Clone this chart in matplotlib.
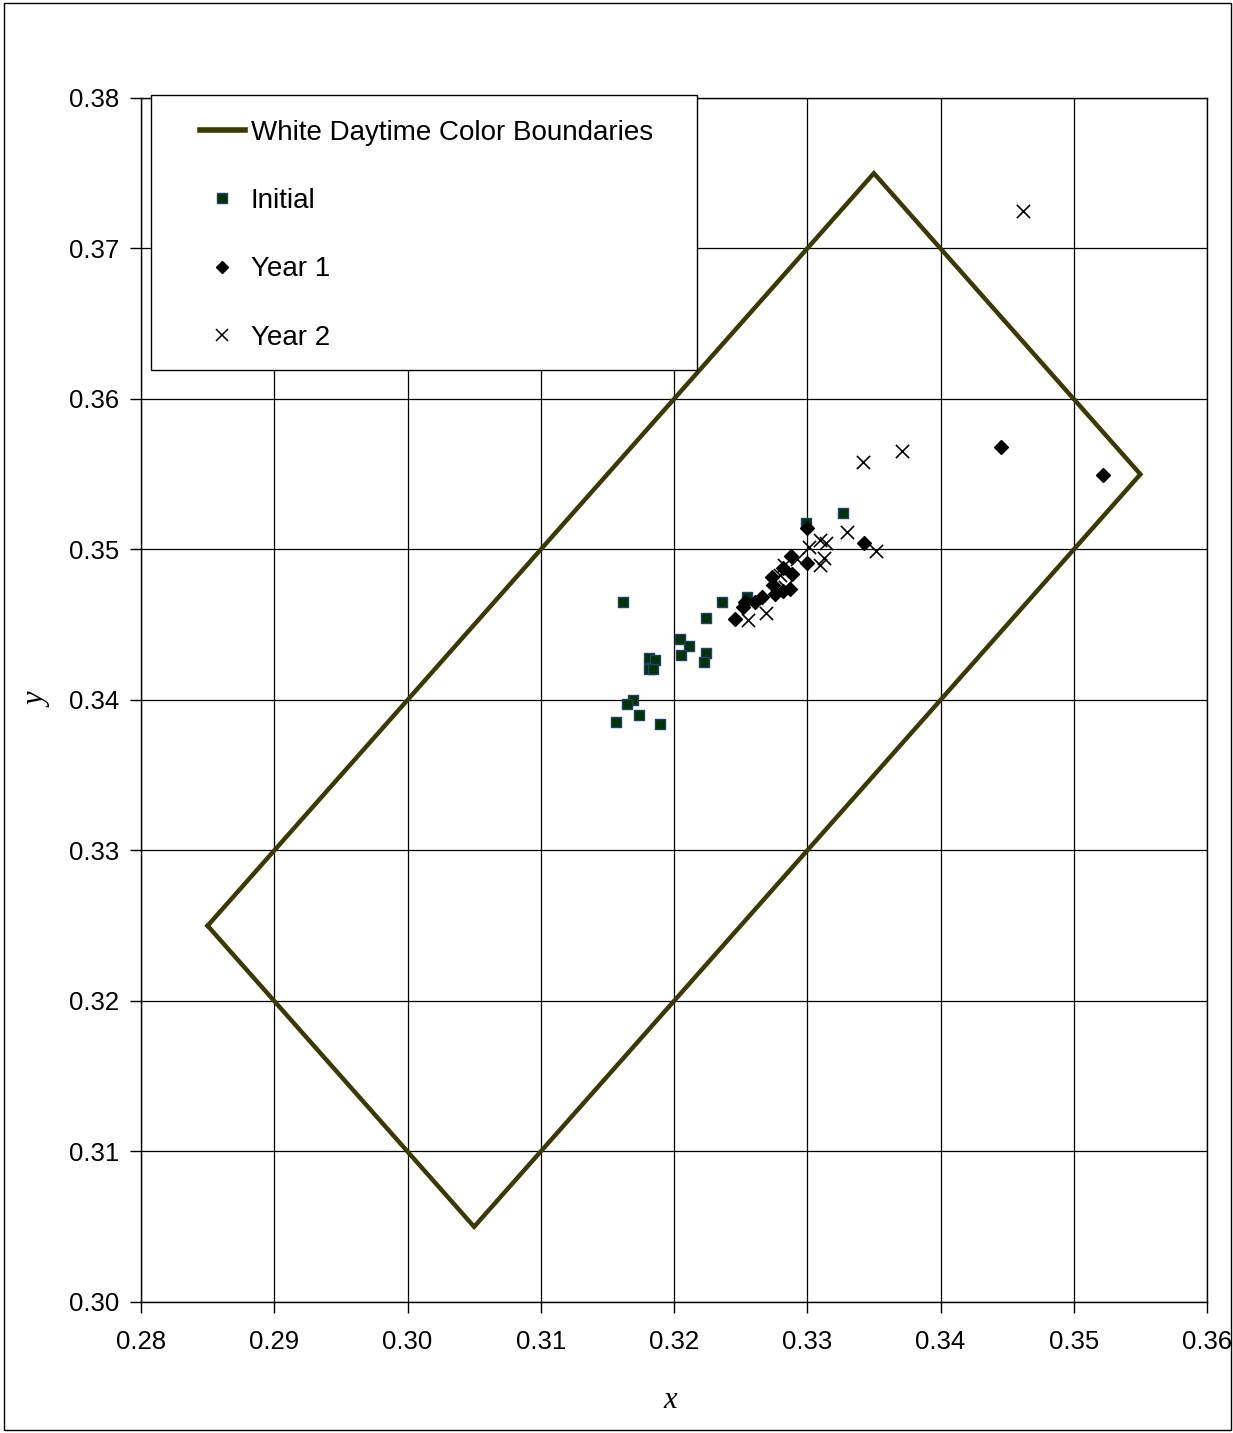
import numpy as np
import matplotlib.pyplot as plt
from matplotlib.patches import Rectangle
from matplotlib.lines import Line2D

plt.rcParams['font.family'] = ['Liberation Sans', 'DejaVu Sans']

# white daytime colour boundary (closed polygon)
bound_x = [0.285, 0.305, 0.355, 0.335, 0.285]
bound_y = [0.325, 0.305, 0.355, 0.375, 0.325]

# Initial measurements
init_x = [0.31617, 0.32362, 0.32240, 0.32043, 0.32110, 0.32055, 0.32240, 0.32228,
          0.31815, 0.31860, 0.31815, 0.31845, 0.31695, 0.31645, 0.31737, 0.31562,
          0.31895, 0.32990, 0.33266, 0.32545]
init_y = [0.34653, 0.34653, 0.34547, 0.34405, 0.34361, 0.34299, 0.34314, 0.34254,
          0.34277, 0.34266, 0.34206, 0.34206, 0.34000, 0.33973, 0.33900, 0.33852,
          0.33841, 0.35174, 0.35240, 0.34682]

# Year 1
y1_x = [0.33000, 0.33426, 0.32876, 0.33000, 0.32819, 0.32882, 0.32733, 0.32745,
        0.32871, 0.32820, 0.32758, 0.32658, 0.32608, 0.32533, 0.32520, 0.32458,
        0.34454, 0.35222]
y1_y = [0.35141, 0.35041, 0.34957, 0.34912, 0.34875, 0.34837, 0.34815, 0.34764,
        0.34736, 0.34727, 0.34704, 0.34682, 0.34653, 0.34653, 0.34620, 0.34536,
        0.35683, 0.35495]

# Year 2
y2_x = [0.34619, 0.33416, 0.33708, 0.33301, 0.33514, 0.33096, 0.33141, 0.33016,
        0.33126, 0.33096, 0.32925, 0.32826, 0.32795, 0.32833, 0.32688, 0.32558]
y2_y = [0.37249, 0.35584, 0.35657, 0.35118, 0.34990, 0.35063, 0.35041, 0.35015,
        0.34941, 0.34897, 0.34935, 0.34897, 0.34831, 0.34749, 0.34575, 0.34532]

W, H = 1233, 1433
fig = plt.figure(figsize=(W / 100, H / 100), dpi=100)
ax = fig.add_axes([141 / W, 1 - 1302 / H, (1207 - 141) / W, (1302 - 98) / H])

line_col = '#3a3a00'
ax.plot(bound_x, bound_y, color=line_col, lw=3.2, solid_joinstyle='miter', zorder=3)
ax.scatter(init_x, init_y, marker='s', s=60, facecolor='#003300', edgecolor='#1f3f6f',
           linewidths=1.0, zorder=4)
ax.scatter(y1_x, y1_y, marker='D', s=50, color='black', zorder=5)
ax.scatter(y2_x, y2_y, marker='x', s=90, color='black', linewidths=1.2, zorder=6)

ax.set_xlim(0.28, 0.36)
ax.set_ylim(0.30, 0.38)
ax.set_xticks(np.arange(0.28, 0.3601, 0.01))
ax.set_yticks(np.arange(0.30, 0.3801, 0.01))
ax.xaxis.set_major_formatter(plt.FormatStrFormatter('%.2f'))
ax.yaxis.set_major_formatter(plt.FormatStrFormatter('%.2f'))
ax.tick_params(labelsize=18.5, length=8, direction='out', width=1)
ax.tick_params(axis='x', pad=12)
ax.tick_params(axis='y', pad=8)
ax.grid(True, color='black', lw=0.9)
ax.set_axisbelow(True)
for s in ax.spines.values():
    s.set_linewidth(1.0)

fig.text(670 / W, 1 - 1400 / H, 'x', family='Liberation Serif', style='italic',
         fontsize=22, ha='center', va='center')
fig.text(38 / W, 1 - 700 / H, 'y', family='Liberation Serif', style='italic',
         fontsize=22, ha='center', va='center', rotation=90)

# legend box
fig.patches.append(Rectangle((151 / W, 1 - 370 / H), (697 - 151) / W, (370 - 95) / H,
                             transform=fig.transFigure, facecolor='white',
                             edgecolor='black', lw=1.0, zorder=5))
handles = [
    Line2D([], [], color=line_col, lw=4),
    Line2D([], [], marker='s', ls='none', markersize=7, markerfacecolor='#003300',
           markeredgecolor='#1f3f6f'),
    Line2D([], [], marker='D', ls='none', markersize=6, color='black'),
    Line2D([], [], marker='x', ls='none', markersize=9, color='black', markeredgewidth=1.1),
]
labels = ['White Daytime Color Boundaries', 'Initial', 'Year 1', 'Year 2']
leg = fig.legend(handles, labels, loc='upper left',
                 bbox_to_anchor=(200 / W, 1 - 120 / H), bbox_transform=fig.transFigure,
                 frameon=False, borderpad=0, borderaxespad=0, fontsize=20,
                 handlelength=1.62, handletextpad=0.2, labelspacing=1.52)
leg.set_zorder(6)

fig.patches.append(Rectangle((4 / W, 3 / H), (1231 - 4) / W, (1430 - 3) / H,
                             transform=fig.transFigure, facecolor='none',
                             edgecolor='black', lw=1.0))

fig.savefig('out.png', dpi=100)
